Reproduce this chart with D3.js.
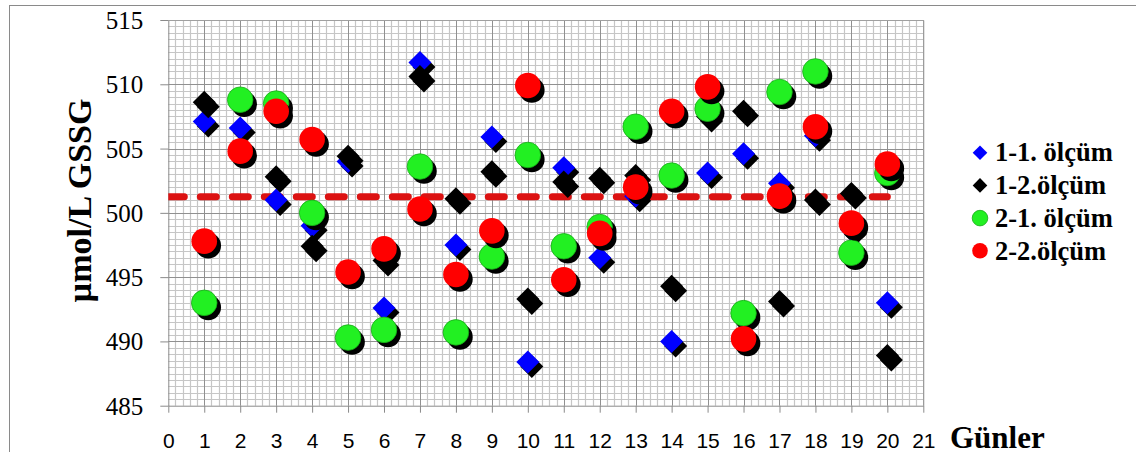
<!DOCTYPE html>
<html>
<head>
<meta charset="utf-8">
<script src="https://cdn.jsdelivr.net/npm/d3@7"></script>
<style>
  html, body { margin: 0; padding: 0; background: #fff; }
  svg { display: block; }
</style>
</head>
<body>
<svg id="chart" width="1136" height="459"></svg>
<script>
// Days of measurement
const days = [1, 2, 3, 4, 5, 6, 7, 8, 9, 10, 11, 12, 13, 14, 15, 16, 17, 18, 19, 20];

// GSSG (µmol/L) per measurement series
const olcum11 = [507.1, 506.6, 501.0, 499.0, 504.0, 492.6, 511.7, 497.5, 505.9, 488.4,
                 503.5, 496.5, 501.3, 490.0, 503.1, 504.6, 502.3, 506.0, 498.7, 493.0];
const olcum12 = [508.6, 508.7, 502.8, 497.4, 504.4, 496.3, 510.6, 501.1, 503.2, 493.3,
                 502.4, 502.7, 502.9, 494.3, 507.5, 507.9, 493.1, 501.0, 501.5, 488.9];
const olcum21 = [493.0, 508.8, 508.5, 500.0, 490.3, 490.9, 503.6, 490.7, 496.6, 504.5,
                 497.4, 498.9, 506.7, 502.9, 508.1, 492.2, 509.4, 511.0, 496.9, 503.1];
const olcum22 = [497.8, 504.8, 507.9, 505.7, 495.4, 497.2, 500.3, 495.2, 498.6, 509.9,
                 494.8, 498.4, 502.0, 507.9, 509.8, 490.2, 501.3, 506.7, 499.2, 503.8];

// Overall mean level drawn as a dashed reference line
const meanLevel = 501.25;
const meanSpan = [0, 20];

// Axis ticks
const yTicks = [485, 490, 495, 500, 505, 510, 515];
const xTicks = [0, 1, 2, 3, 4, 5, 6, 7, 8, 9, 10, 11, 12, 13, 14, 15, 16, 17, 18, 19, 20, 21];

const seriesNames = ["1-1. ölçüm", "1-2.ölçüm", "2-1. ölçüm", "2-2.ölçüm"];

const series = [
  { name: seriesNames[0], values: olcum11, shape: "diamond", fill: "#0000ff" },
  { name: seriesNames[1], values: olcum12, shape: "diamond", fill: "#000000" },
  { name: seriesNames[2], values: olcum21, shape: "circle", fill: "#22f022", stroke: "#17a917" },
  { name: seriesNames[3], values: olcum22, shape: "circle", fill: "#ff0000" }
];

const svg = d3.select("#chart");

// outer chart frame (left and top edges)
svg.append("line").attr("x1", 9.5).attr("x2", 9.5).attr("y1", 5).attr("y2", 452)
  .attr("stroke", "#8a8a8a").attr("stroke-width", 1);
svg.append("line").attr("x1", 9.5).attr("x2", 1136).attr("y1", 5.5).attr("y2", 5.5)
  .attr("stroke", "#8a8a8a").attr("stroke-width", 1);

const plotL = 168.3, plotR = 923.3, plotT = 20, plotB = 405.7;

const x = d3.scaleLinear().domain([0, 21]).range([plotL, plotR]);
const y = d3.scaleLinear().domain([485, 515]).range([plotB, plotT]);

// Grid: minor lines every 0.2 day / 0.5 unit, major lines at the ticks
const grid = svg.append("g");
const minorX = d3.range(0, 21.0001, 0.2).filter(v => Math.abs(v - Math.round(v)) > 1e-6);
const minorY = d3.range(485, 515.0001, 0.5).filter(v => Math.abs(v / 5 - Math.round(v / 5)) > 1e-6);

grid.selectAll("line.mx").data(minorX).join("line")
  .attr("x1", d => Math.round(x(d)) + 0.5).attr("x2", d => Math.round(x(d)) + 0.5)
  .attr("y1", plotT).attr("y2", plotB)
  .attr("stroke", "#c6c6c6").attr("stroke-width", 1.2);
grid.selectAll("line.my").data(minorY).join("line")
  .attr("y1", d => Math.round(y(d)) + 0.5).attr("y2", d => Math.round(y(d)) + 0.5)
  .attr("x1", plotL).attr("x2", plotR)
  .attr("stroke", "#c6c6c6").attr("stroke-width", 1.2);
grid.selectAll("line.Mx").data(xTicks.slice(1)).join("line")
  .attr("x1", d => Math.round(x(d)) + 0.5).attr("x2", d => Math.round(x(d)) + 0.5)
  .attr("y1", plotT).attr("y2", plotB)
  .attr("stroke", "#909090").attr("stroke-width", 1);
grid.selectAll("line.My").data(yTicks.slice(1)).join("line")
  .attr("y1", d => Math.round(y(d)) + 0.5).attr("y2", d => Math.round(y(d)) + 0.5)
  .attr("x1", plotL).attr("x2", plotR)
  .attr("stroke", "#909090").attr("stroke-width", 1);

// Axes
const yAxis = svg.append("g").attr("transform", `translate(${plotL},0)`)
  .call(d3.axisLeft(y).tickValues(yTicks).tickSize(8).tickPadding(17).tickSizeOuter(0));
yAxis.select(".domain").attr("stroke", "#8a8a8a");
yAxis.selectAll(".tick line").attr("stroke", "#8a8a8a");
yAxis.selectAll("text")
  .attr("font-family", "'Liberation Serif', 'Times New Roman', serif")
  .attr("font-size", 25).attr("fill", "#000").attr("dy", "0.34em");

const xAxis = svg.append("g").attr("transform", `translate(0,${plotB})`)
  .call(d3.axisBottom(x).tickValues(xTicks).tickSize(7).tickSizeOuter(0));
xAxis.select(".domain").attr("stroke", "#8a8a8a");
xAxis.selectAll(".tick line").attr("stroke", "#8a8a8a");
xAxis.selectAll("text")
  .attr("font-family", "'Liberation Sans', Arial, sans-serif")
  .attr("font-size", 21).attr("fill", "#000")
  .attr("y", 42.5).attr("dy", null);

// Clip for plot area
svg.append("clipPath").attr("id", "plotClip")
  .append("rect").attr("x", plotL).attr("y", plotT).attr("width", plotR - plotL).attr("height", plotB - plotT);

// Mean reference line
svg.append("path")
  .attr("clip-path", "url(#plotClip)")
  .attr("d", d3.line().x(d => x(d)).y(() => y(meanLevel))(meanSpan))
  .attr("fill", "none")
  .attr("stroke", "#dc1212")
  .attr("stroke-width", 7)
  .attr("stroke-linecap", "round")
  .attr("stroke-dasharray", "16 16");

// Marker shapes
const diamondPath = (cx, cy, r) => `M${cx},${cy - r}L${cx + r},${cy}L${cx},${cy + r}L${cx - r},${cy}Z`;
const diamondR = 11.5, circleR = 12.8, shadowDx = 4, shadowDy = 4.5;

series.forEach(s => {
  const g = svg.append("g");
  const pts = days.map((d, i) => ({ d, v: s.values[i] }));
  const pt = g.selectAll("g").data(pts).join("g");
  if (s.shape === "diamond") {
    pt.append("path")
      .attr("d", p => diamondPath(x(p.d) + shadowDx, y(p.v) + shadowDy, diamondR))
      .attr("fill", "#000");
    pt.append("path")
      .attr("d", p => diamondPath(x(p.d), y(p.v), diamondR))
      .attr("fill", s.fill);
  } else {
    pt.append("circle")
      .attr("cx", p => x(p.d) + shadowDx).attr("cy", p => y(p.v) + shadowDy).attr("r", circleR)
      .attr("fill", "#000");
    pt.append("circle")
      .attr("cx", p => x(p.d)).attr("cy", p => y(p.v)).attr("r", circleR)
      .attr("fill", s.fill)
      .attr("stroke", s.stroke || "none").attr("stroke-width", s.stroke ? 0.8 : 0);
  }
});

// Plot area outline (top and right)
svg.append("path")
  .attr("d", `M${plotL},${plotT + 0.5}H${plotR + 0.5}V${plotB}`)
  .attr("fill", "none").attr("stroke", "#a0a0a0").attr("stroke-width", 1);

// Axis titles
svg.append("text")
  .attr("transform", "translate(91,200.5) rotate(-90)")
  .attr("text-anchor", "middle")
  .attr("font-family", "'Liberation Serif', 'Times New Roman', serif")
  .attr("font-weight", "bold").attr("font-size", 34)
  .text("µmol/L GSSG");

svg.append("text")
  .attr("x", 950).attr("y", 448)
  .attr("font-family", "'Liberation Serif', 'Times New Roman', serif")
  .attr("font-weight", "bold").attr("font-size", 31)
  .text("Günler");

// Legend
const legend = svg.append("g");
const legendY0 = 152.7, legendStep = 32.7;
series.forEach((s, i) => {
  const cy = legendY0 + i * legendStep;
  if (s.shape === "diamond") {
    legend.append("path").attr("d", diamondPath(980, cy, 7.3)).attr("fill", s.fill);
  } else {
    legend.append("circle").attr("cx", 980).attr("cy", cy).attr("r", 7.8)
      .attr("fill", s.fill).attr("stroke", s.stroke || "none").attr("stroke-width", s.stroke ? 0.8 : 0);
  }
  legend.append("text")
    .attr("x", 995).attr("y", cy).attr("dy", "0.33em")
    .attr("font-family", "'Liberation Serif', 'Times New Roman', serif")
    .attr("font-weight", "bold").attr("font-size", 26.5)
    .text(s.name);
});
</script>
</body>
</html>
